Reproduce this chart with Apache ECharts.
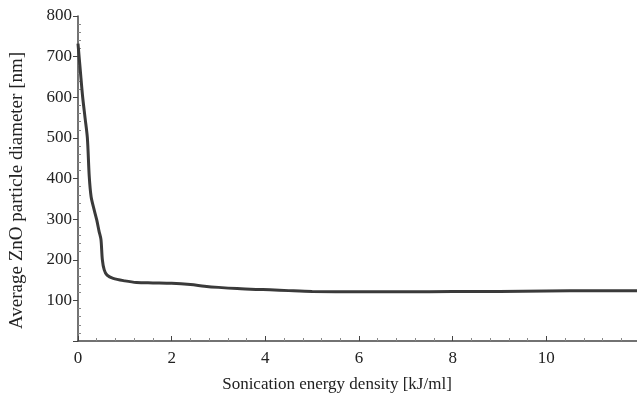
<!DOCTYPE html>
<html>
<head>
<meta charset="utf-8">
<script src="https://cdn.jsdelivr.net/npm/echarts@6/dist/echarts.min.js"></script>
<style>
  html, body { margin: 0; padding: 0; background: #fff; }
  #chart { width: 637px; height: 399px; }
</style>
</head>
<body>
<div id="chart"></div>
<script>
// values
const energy = [0, 0.05, 0.1, 0.15, 0.2, 0.24, 0.28, 0.34, 0.4, 0.45, 0.49, 0.52, 0.56, 0.62, 0.75, 1.0, 1.25, 1.6, 2.0, 2.4, 2.7, 3.0, 3.4, 3.8, 4.1, 4.5, 5, 6, 7, 8, 9, 10, 11, 12];
const diameter = [732, 665, 600, 550, 500, 405, 355, 325, 298, 270, 250, 200, 175, 162, 154, 148, 144, 143, 142, 139, 135, 132, 129, 127, 126, 124, 122, 121, 121, 122, 122, 123, 124, 124];

const xTitle = 'Sonication energy density [kJ/ml]';
const yTitle = 'Average ZnO particle diameter [nm]';

const points = energy.map((e, i) => [e, diameter[i]]);

const font = 'Liberation Serif';
const axisColor = '#444';
const textColor = '#222';

const option = {
    animation: false,
    grid: {
        left: 78,
        top: 16,
        width: 562,
        bottom: 58,
        outerBoundsMode: 'none'
    },
    xAxis: {
        type: 'value',
        min: 0,
        max: 12,
        interval: 2,
        name: xTitle,
        nameLocation: 'middle',
        nameGap: 35,
        nameTextStyle: { fontFamily: font, fontSize: 17, color: textColor, padding: [0, 44, 0, 0] },
        axisLine: { lineStyle: { color: axisColor, width: 1.5 } },
        axisTick: { inside: true, length: 5, lineStyle: { color: axisColor } },
        minorTick: { show: true, splitNumber: 5, length: 3, lineStyle: { color: '#888' } },
        axisLabel: {
            fontFamily: font, fontSize: 17, color: textColor, margin: 9,
            formatter: v => (v === 12 ? '' : String(v))
        },
        splitLine: { show: false }
    },
    yAxis: [{
        type: 'value',
        min: 0,
        max: 800,
        interval: 100,
        name: yTitle,
        nameLocation: 'middle',
        nameGap: 51,
        nameTextStyle: { fontFamily: font, fontSize: 19, color: textColor, padding: [0, 24, 0, 0] },
        axisLine: { show: true, lineStyle: { color: axisColor, width: 1.5 } },
        axisTick: { show: true, inside: false, length: 5, lineStyle: { color: axisColor } },
        axisLabel: {
            fontFamily: font, fontSize: 17, color: textColor, margin: 6,
            formatter: v => (v === 0 ? '' : String(v))
        },
        splitLine: { show: false }
    }, {
        // second copy of the left axis, only for the inward minor ticks
        type: 'value',
        position: 'left',
        offset: 0,
        min: 0,
        max: 800,
        interval: 100,
        axisLine: { show: false },
        axisTick: { show: false, inside: true },
        minorTick: { show: true, splitNumber: 5, length: 3, lineStyle: { color: '#888' } },
        axisLabel: { show: false },
        splitLine: { show: false }
    }],
    series: [{
        type: 'line',
        data: points,
        smooth: 0.3,
        showSymbol: false,
        clip: false,
        lineStyle: { color: '#3a3a3a', width: 3 }
    }]
};

const chart = echarts.init(document.getElementById('chart'));
chart.setOption(option);
</script>
</body>
</html>
